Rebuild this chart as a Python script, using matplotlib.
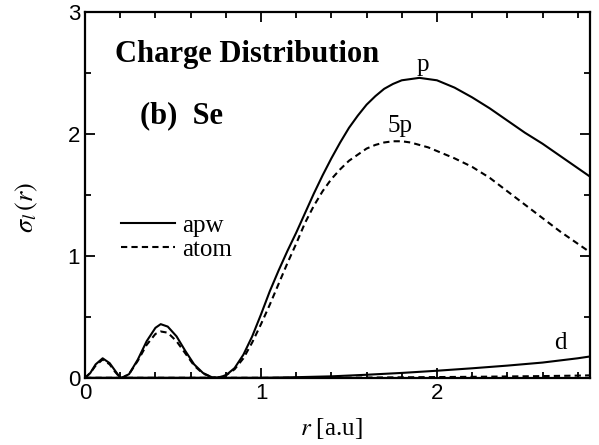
import numpy as np
import matplotlib
matplotlib.use('Agg')
import matplotlib.pyplot as plt

# sigma_l(r), r in a.u.
r_p = [0.0, 0.03, 0.06, 0.1, 0.14, 0.17, 0.2, 0.21, 0.25, 0.3, 0.35, 0.4, 0.43, 0.47,
       0.52, 0.57, 0.62, 0.67, 0.72, 0.75,
       0.8, 0.85, 0.9, 0.95, 1.0, 1.05, 1.1, 1.15, 1.2, 1.25, 1.3, 1.35, 1.4, 1.45,
       1.5, 1.55, 1.6, 1.65, 1.7, 1.75, 1.8, 1.85, 1.9, 1.95,
       2.0, 2.1, 2.2, 2.3, 2.4, 2.5, 2.6, 2.7, 2.8, 2.87]
apw_p = [0.0, 0.04, 0.11, 0.16, 0.12, 0.06, 0.0, 0.0, 0.03, 0.15, 0.3, 0.41, 0.44, 0.42,
         0.34, 0.22, 0.11, 0.04, 0.005, 0.0,
         0.02, 0.08, 0.19, 0.34, 0.52, 0.71, 0.88, 1.04, 1.19, 1.35, 1.51, 1.66, 1.8, 1.93,
         2.05, 2.15, 2.24, 2.31, 2.37, 2.41, 2.44, 2.45, 2.46, 2.45,
         2.44, 2.38, 2.3, 2.21, 2.11, 2.01, 1.92, 1.82, 1.72, 1.65]
atom_5p = [0.0, 0.04, 0.1, 0.15, 0.11, 0.05, 0.0, 0.0, 0.03, 0.14, 0.27, 0.36, 0.38, 0.37,
           0.3, 0.2, 0.1, 0.035, 0.005, 0.0,
           0.02, 0.07, 0.16, 0.29, 0.44, 0.6, 0.77, 0.94, 1.1, 1.27, 1.41, 1.53, 1.63, 1.71,
           1.78, 1.83, 1.88, 1.91, 1.93, 1.94, 1.94, 1.93, 1.91, 1.89,
           1.86, 1.8, 1.73, 1.64, 1.53, 1.42, 1.31, 1.2, 1.1, 1.03]

r_d = [0.0, 1.0, 1.2, 1.4, 1.6, 1.8, 2.0, 2.2, 2.4, 2.6, 2.8, 2.87]
apw_d = [0.0, 0.0, 0.005, 0.012, 0.025, 0.04, 0.058, 0.078, 0.1, 0.125, 0.16, 0.175]
atom_d = [0.0, 0.0, 0.0, 0.0, 0.002, 0.004, 0.006, 0.008, 0.011, 0.014, 0.018, 0.02]

plt.rcParams['font.family'] = ['Liberation Serif', 'DejaVu Serif']
plt.rcParams['mathtext.fontset'] = 'stix'
dash = (0, (3, 2))

fig = plt.figure(figsize=(5.99, 4.45), dpi=100)
ax = fig.add_axes([0.142, 0.151, 0.843, 0.822])

ax.plot(r_p, apw_p, color='black', linewidth=1.5, label='apw')
ax.plot(r_p, atom_5p, color='black', linewidth=1.5, linestyle=dash, label='atom')
ax.plot(r_d, apw_d, color='black', linewidth=1.5)
ax.plot(r_d, atom_d, color='black', linewidth=1.5, linestyle=dash)

ax.set_xlim(0, 2.87)
ax.set_ylim(0, 3)
ax.set_xticks([0, 1, 2])
ax.set_xticks(np.arange(0, 2.87, 0.2), minor=True)
ax.set_yticks([0, 1, 2, 3])
ax.set_yticks(np.arange(0, 3.01, 0.5), minor=True)
ax.tick_params(which='both', direction='in', top=True, right=True, width=1.3)
ax.tick_params(which='major', length=7, labelsize=16)
ax.tick_params(which='minor', length=4)
for lab in ax.get_xticklabels() + ax.get_yticklabels():
    lab.set_fontfamily('Liberation Sans')
for s in ax.spines.values():
    s.set_linewidth(1.6)

ax.set_xlabel(r'$r$ [a.u]', fontsize=18)
ax.set_ylabel(r'$\sigma_l\,(r)$', fontsize=19)
ax.xaxis.set_label_coords(0.487, -0.105)
ax.yaxis.set_label_coords(-0.09, 0.465)

ax.text(0.17, 2.59, 'Charge Distribution', fontsize=22, fontweight='bold')
ax.text(0.31, 2.09, '(b)  Se', fontsize=22, fontweight='bold')
ax.text(1.92, 2.52, 'p', fontsize=18, ha='center')
ax.text(1.79, 2.02, '5p', fontsize=18, ha='center')
ax.text(2.7, 0.24, 'd', fontsize=18, ha='center')

ax.legend(loc='upper left', bbox_to_anchor=(0.047, 0.48), frameon=False, fontsize=18,
          handlelength=2.15, handletextpad=0.3, labelspacing=0.05, borderpad=0)

plt.savefig('out.png')
print('Done')
